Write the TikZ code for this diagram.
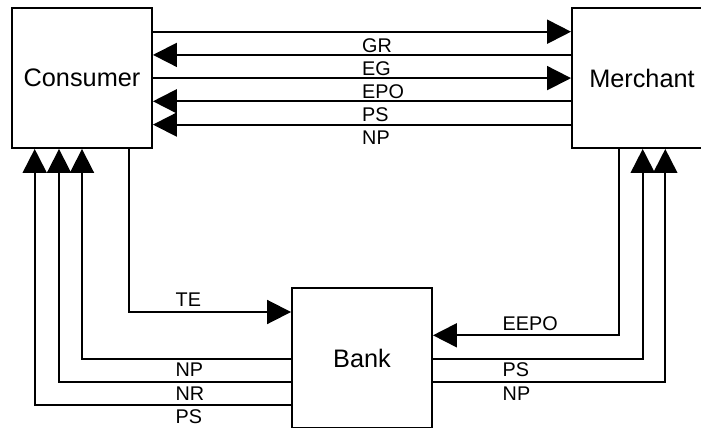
\documentclass[tikz,border=0pt]{standalone}
\usepackage{fontspec}
\setmainfont{Liberation Sans}
\usetikzlibrary{arrows.meta}
\begin{document}
\begin{tikzpicture}[x=1pt,y=-1pt,
  box/.style={draw,line width=1.9pt,minimum width=140pt,minimum height=140pt,inner sep=0pt,font=\fontsize{25.3}{30}\selectfont},
  conn/.style={line width=1.9pt},
  arr/.style={conn,-{Triangle[length=24pt,width=24pt]}},
  lbl/.style={inner sep=0pt,anchor=west,font=\fontsize{19.8}{23}\selectfont}]
\path[use as bounding box, clip] (0,0) rectangle (701,428);
\fill[white] (0,0) rectangle (701,428);
% boxes
\node[box] (C) at (82,78) {Consumer};
\node[box] (M) at (642,78) {Merchant};
\node[box] (B) at (362,358) {Bank};
% top connectors
\draw[arr] (C.east |- 0,31.7) -- (M.west |- 0,31.7);
\draw[arr] (M.west |- 0,54.9) -- (C.east |- 0,54.9);
\draw[arr] (C.east |- 0,78.1) -- (M.west |- 0,78.1);
\draw[arr] (M.west |- 0,101.3) -- (C.east |- 0,101.3);
\draw[arr] (M.west |- 0,124.6) -- (C.east |- 0,124.6);
\node[lbl] (lGR) at (362,45.4) {GR};
\node[lbl] (lEG) at (362,68.3) {EG};
\node[lbl] (lEPO) at (362,91.4) {EPO};
\node[lbl] (lPS1) at (362,114.3) {PS};
\node[lbl] (lNP1) at (362,137.6) {NP};
% consumer <-> bank
\draw[arr] (C.south -| 128.7,0) |- (B.west |- 0,312);
\draw[arr] (B.west |- 0,358.7) -| (C.south -| 82,0);
\draw[arr] (B.west |- 0,382) -| (C.south -| 59,0);
\draw[arr] (B.west |- 0,405.3) -| (C.south -| 34.7,0);
\node[lbl] (lTE) at (175.5,300) {TE};
\node[lbl] (lNP2) at (175.5,370) {NP};
\node[lbl] (lNR) at (175.5,393.3) {NR};
\node[lbl] (lPS2) at (175.5,416.6) {PS};
% merchant <-> bank
\draw[arr] (M.south -| 619.3,0) |- (B.east |- 0,335.3);
\draw[arr] (B.east |- 0,358.7) -| (M.south -| 642.7,0);
\draw[arr] (B.east |- 0,382) -| (M.south -| 665.3,0);
\node[lbl] (lEEPO) at (502.5,323.8) {EEPO};
\node[lbl] (lPS3) at (502.5,370) {PS};
\node[lbl] (lNP3) at (502.5,393.6) {NP};
\end{tikzpicture}
\end{document}
